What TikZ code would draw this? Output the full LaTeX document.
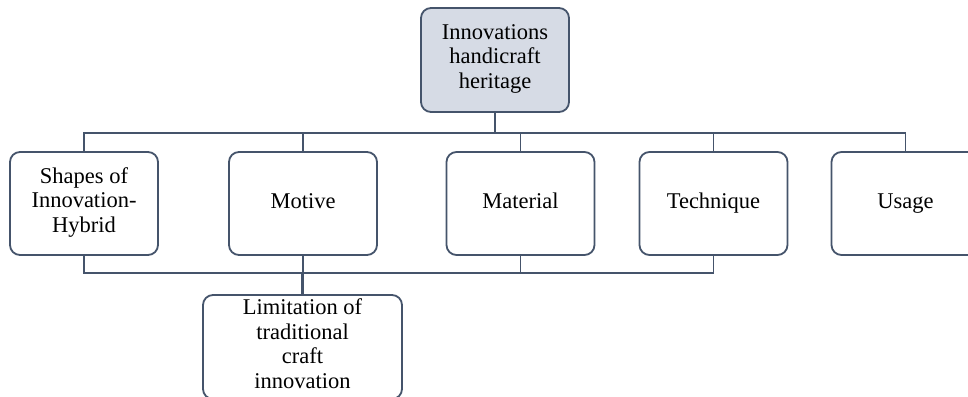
\documentclass[tikz,border=0pt]{standalone}
\usepackage{fontspec}
\setmainfont{Liberation Serif}
\usepackage{xcolor}
\definecolor{slate}{rgb}{0.27,0.33,0.42}
\definecolor{paleblue}{rgb}{0.84,0.86,0.90}

\begin{document}
\begin{tikzpicture}[x=1pt,y=1pt,
        box/.style={draw=slate,line width=1.8pt,rounded corners=10pt,fill=white,
            minimum width=148pt,minimum height=103pt,inner sep=2pt,align=center,
            font=\fontsize{22.5}{24.5}\selectfont,
            execute at begin node=\strut,execute at end node=\strut},
        link/.style={draw=slate,line width=1.9pt}]
        % page
        \clip (0,0) rectangle (968,-396);
        % boxes
        \node[box,fill=paleblue,minimum height=104pt] (root) at (495,-60) {Innovations\\handicraft\\heritage};
        \node[box] (shapes) at (84,-203.5) {Shapes of\\Innovation-\\Hybrid};
        \node[box] (motive) at (303,-203.5) {Motive};
        \node[box] (material) at (520.5,-203.5) {Material};
        \node[box] (technique) at (713.5,-203.5) {Technique};
        \node[box] (usage) at (905.5,-203.5) {Usage};
        \node[box,minimum width=199pt,minimum height=104pt] (limit) at (302.5,-347) {Limitation of\\traditional\\craft\\innovation};
        % upper bus
        \draw[link] (root.south) -- ++(0,-20) coordinate (bus);
        \foreach \n in {shapes,motive,material,technique,usage}
            \draw[link] (\n.north) |- (bus);
        % lower bus
        \draw[link,line width=3.6pt] (limit.north) -- ++(0,21) coordinate (low);
        \foreach \n in {shapes,motive,material,technique}
            \draw[link] (\n.south) |- (low);
    \end{tikzpicture}
\end{document}
